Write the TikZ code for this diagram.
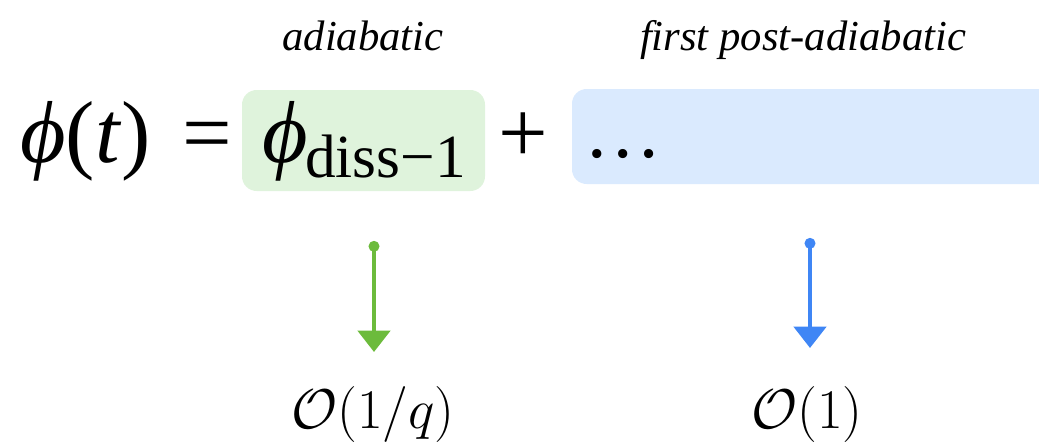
\documentclass[tikz,border=0pt]{standalone}
\usepackage{fix-cm}
\usepackage{fontspec}
\setmainfont{Liberation Serif}[ItalicFont={Liberation Serif Italic}]
\usetikzlibrary{arrows.meta}
\definecolor{gfill}{HTML}{DFF3DC}
\definecolor{bfill}{HTML}{DAEAFE}
\definecolor{garrow}{HTML}{6CBB3C}
\definecolor{barrow}{HTML}{3F86F5}
\begin{document}
\begin{tikzpicture}[x=0.75pt,y=-0.75pt,
  box/.style={rounded corners=11pt, inner sep=0pt, draw=none},
  eq/.style={font=\fontsize{66}{70}\selectfont, inner sep=0pt, anchor=base west},
  sub/.style={font=\fontsize{46}{50}\selectfont, inner sep=0pt, anchor=base west},
  lab/.style={font=\fontsize{32}{36}\selectfont\itshape, inner sep=0pt, anchor=base},
  ord/.style={font=\fontsize{42}{46}\selectfont, inner sep=0pt, anchor=base},
  arr/.style={line width=3.4pt, {Circle[length=8pt]}-{Triangle[width=24pt,length=16pt]}}]
\useasboundingbox (0,0) rectangle (1039,446);
\clip (0,0) rectangle (1039,446);
% boxes
\node[box, fill=gfill, minimum width=182.25pt, minimum height=75.75pt] (greenbox) at (363.5,140.5) {};
\node[box, fill=bfill, minimum width=381pt, minimum height=71.25pt] (bluebox) at (826,136.5) {};
% equation
\node[eq] (lhs) at (20,162) {\textit{ϕ}(\textit{t})};
\node[eq] (equals) at (182,162) {=};
\node[eq] (phid) at (262,162) {\textit{ϕ}};
\node[sub] (diss) at (305,177) {diss−1};
\node[eq] (plus) at (498,162) {+};
\node[eq, font=\fontsize{58}{60}\selectfont] (dots) at (584,157) {…};
% labels
\node[lab] (adiab) at (363,50) {adiabatic};
\node[lab] (postad) at (803,50) {first post-adiabatic};
% arrows
\coordinate (g0) at (374,241);
\coordinate (g1) at (374,352);
\coordinate (b0) at (810,238);
\coordinate (b1) at (810,348);
\draw[arr, garrow] (g0) -- (g1);
\draw[arr, barrow] (b0) -- (b1);
% orders
\node[ord] (og) at (373,428) {$\mathcal{O}(1/q)$};
\node[ord] (ob) at (807,428) {$\mathcal{O}(1)$};
\end{tikzpicture}
\end{document}
